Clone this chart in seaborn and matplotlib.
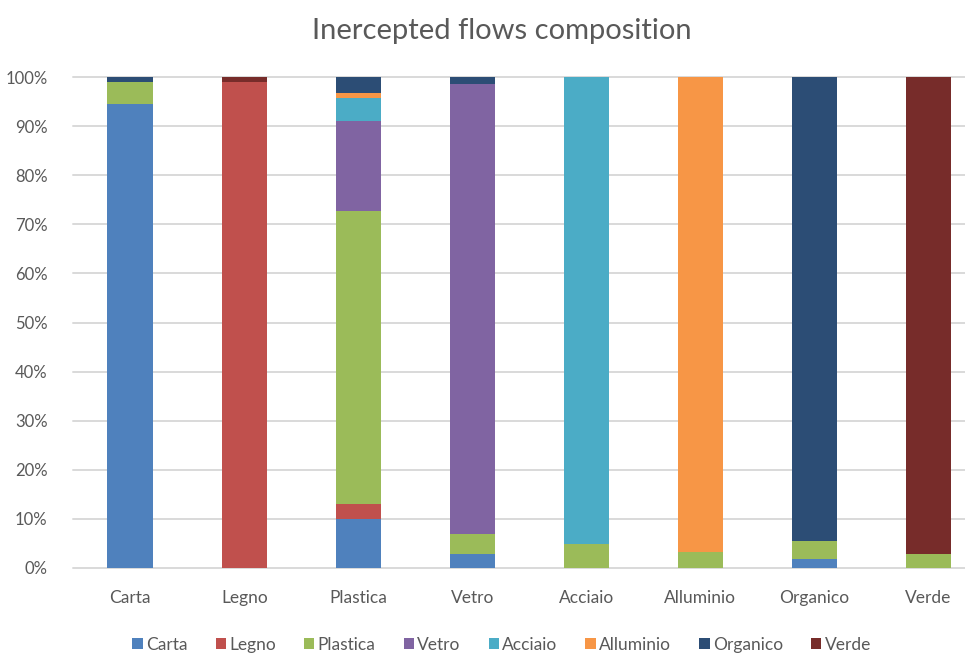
import numpy as np
import pandas as pd
import seaborn as sns
import matplotlib
matplotlib.use("Agg")
import matplotlib.pyplot as plt
from matplotlib.patches import Patch
from matplotlib.ticker import PercentFormatter

# Intercepted flow categories (bars) and their composition by material (stacked segments, %)
categories = ["Carta", "Legno", "Plastica", "Vetro", "Acciaio", "Alluminio", "Organico", "Verde"]
materials = ["Carta", "Legno", "Plastica", "Vetro", "Acciaio", "Alluminio", "Organico", "Verde"]

carta     = [94.5, 0.0, 10.0, 2.9, 0.0, 0.0, 1.8, 0.0]
legno     = [0.0, 99.0, 3.0, 0.0, 0.0, 0.0, 0.0, 0.0]
plastica  = [4.5, 0.0, 59.8, 4.0, 4.9, 3.2, 3.8, 2.8]
vetro     = [0.0, 0.0, 18.2, 91.6, 0.0, 0.0, 0.0, 0.0]
acciaio   = [0.0, 0.0, 4.8, 0.0, 95.1, 0.0, 0.0, 0.0]
alluminio = [0.0, 0.0, 0.9, 0.0, 0.0, 96.8, 0.0, 0.0]
organico  = [1.0, 0.0, 3.3, 1.5, 0.0, 0.0, 94.4, 0.0]
verde     = [0.0, 1.0, 0.0, 0.0, 0.0, 0.0, 0.0, 97.2]

colors = ["#4F81BD", "#C0504D", "#9BBB59", "#8064A2",
          "#4BACC6", "#F79646", "#2C4D75", "#772C2A"]

series = [carta, legno, plastica, vetro, acciaio, alluminio, organico, verde]

sns.set_theme(style="white")
plt.rcParams["font.family"] = ["Lato", "DejaVu Sans"]
text_color = "#595959"

fig = plt.figure(figsize=(9.65, 6.55), dpi=100)
ax = fig.add_axes([72.6 / 965, (655 - 568) / 655, 1 - 72.6 / 965, (568 - 77) / 655])

ax.set_axisbelow(True)
for v in np.arange(0, 1.01, 0.1):
    ax.axhline(v, color="#D9D9D9", linewidth=1.4, zorder=0, clip_on=False)

bottom = np.zeros(len(categories))
for name, vals, col in zip(materials, series, colors):
    frac = np.array(vals) / 100.0
    sns.barplot(x=categories, y=frac, bottom=bottom, color=col, width=0.40,
                saturation=1, ax=ax, order=categories, linewidth=0)
    bottom = bottom + frac

ax.set_xlim(-0.506, 7.32)
ax.set_ylim(0, 1.0)
ax.set_yticks(np.arange(0, 1.01, 0.1))
ax.yaxis.set_major_formatter(PercentFormatter(1.0, decimals=0))
for s in ax.spines.values():
    s.set_visible(False)
ax.tick_params(axis="x", length=0, pad=16, labelsize=12.5, labelcolor=text_color)
ax.tick_params(axis="y", length=0, pad=18, labelsize=12, labelcolor=text_color)
ax.set_xlabel("")
ax.set_ylabel("")

fig.suptitle("Inercepted flows composition", x=0.52, y=0.972, fontsize=21,
             color=text_color)

handles = [Patch(facecolor=c, edgecolor="none", label=m) for m, c in zip(materials, colors)]
fig.legend(handles=handles, loc="center", bbox_to_anchor=(0.52, 0.016), ncol=8,
           frameon=False, fontsize=12.5, handlelength=0.6, handleheight=0.6,
           handletextpad=0.2, columnspacing=1.6, labelcolor=text_color)

fig.savefig("out.png", dpi=100)
